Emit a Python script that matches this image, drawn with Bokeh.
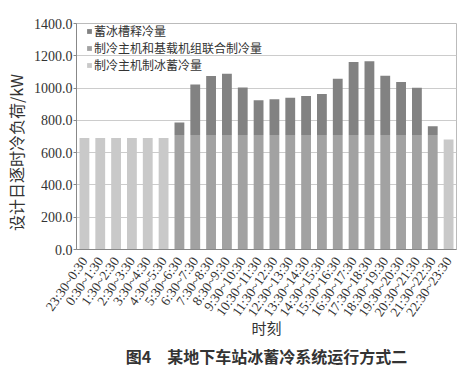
import math
from bokeh.plotting import figure
from bokeh.models import (FactorRange, Range1d, Legend, LegendItem, PrintfTickFormatter,
                          FixedTicker, Title)
from bokeh.embed import file_html
from bokeh.resources import INLINE

# ---- data ----
periods = ["23:30~0:30", "0:30~1:30", "1:30~2:30", "2:30~3:30", "3:30~4:30", "4:30~5:30",
           "5:30~6:30", "6:30~7:30", "7:30~8:30", "8:30~9:30", "9:30~10:30", "10:30~11:30",
           "11:30~12:30", "12:30~13:30", "13:30~14:30", "14:30~15:30", "15:30~16:30",
           "16:30~17:30", "17:30~18:30", "18:30~19:30", "19:30~20:30", "20:30~21:30",
           "21:30~22:30", "22:30~23:30"]
ice_making = [690, 690, 690, 690, 690, 690, 0, 0, 0, 0, 0, 0, 0, 0, 0, 0, 0, 0, 0, 0, 0, 0, 0, 682]
combined = [0, 0, 0, 0, 0, 0, 710, 710, 710, 710, 710, 710, 710, 710, 710, 710, 710,
            710, 710, 710, 710, 710, 710, 0]
ice_release = [0, 0, 0, 0, 0, 0, 77, 312, 365, 378, 294, 214, 220, 230, 241, 253, 347,
               451, 456, 366, 327, 292, 53, 0]
y_ticks = [0, 200, 400, 600, 800, 1000, 1200, 1400]

series_names = ["蓄冰槽释冷量", "制冷主机和基载机组联合制冷量", "制冷主机制冰蓄冷量"]
colors = {"ice_making": "#c9c9c9", "combined": "#a2a2a2", "ice_release": "#828282"}
y_title = "设计日逐时冷负荷/kW"
x_title = "时刻"
caption_text = "图4　某地下车站冰蓄冷系统运行方式二"

source = dict(period=periods, ice_making=ice_making, combined=combined, ice_release=ice_release)

p = figure(width=467, height=371, x_range=FactorRange(*periods), y_range=Range1d(0, 1400),
           output_backend="svg", toolbar_location=None,
           min_border_left=71, min_border_right=11, min_border_top=23, min_border_bottom=122)

renderers = p.vbar_stack(["ice_making", "combined", "ice_release"], x="period", width=0.62,
                         source=source,
                         color=[colors["ice_making"], colors["combined"], colors["ice_release"]],
                         line_color=None)

legend = Legend(items=[
    LegendItem(label=series_names[0], renderers=[renderers[2]]),
    LegendItem(label=series_names[1], renderers=[renderers[1]]),
    LegendItem(label=series_names[2], renderers=[renderers[0]]),
], location=(10, 176))
legend.glyph_width = 6
legend.glyph_height = 6
legend.label_height = 12
legend.label_standoff = 2
legend.spacing = -2
legend.padding = 0
legend.margin = 0
legend.label_text_font = "Noto Sans CJK SC"
legend.label_text_font_size = "12px"
legend.label_text_color = "#333333"
legend.background_fill_alpha = 0
legend.border_line_alpha = 0
p.add_layout(legend)

# axes
p.yaxis.ticker = FixedTicker(ticks=y_ticks)
p.yaxis.formatter = PrintfTickFormatter(format="%.1f")
p.yaxis.major_label_text_font = "Liberation Serif"
p.yaxis.major_label_text_font_size = "14px"
p.yaxis.major_label_text_color = "#333333"
p.yaxis.major_tick_in = 0
p.yaxis.major_tick_out = 3
p.yaxis.major_label_standoff = 1
p.yaxis.minor_tick_line_color = None
p.yaxis.axis_line_color = "#888888"
p.yaxis.major_tick_line_color = "#888888"
p.yaxis.axis_label = y_title + "\u3000\u3000"
p.yaxis.axis_label_text_font = "Noto Sans CJK SC"
p.yaxis.axis_label_text_font_style = "normal"
p.yaxis.axis_label_text_font_size = "16px"
p.yaxis.axis_label_text_color = "#333333"
p.yaxis.axis_label_standoff = 3

p.xaxis.major_label_orientation = 0.96
p.xaxis.major_label_text_font = "Liberation Serif"
p.xaxis.major_label_text_font_size = "13.5px"
p.xaxis.major_label_text_color = "#333333"
p.xaxis.major_label_standoff = 3
p.xaxis.major_tick_line_color = None
p.xaxis.axis_line_color = "#888888"
p.xaxis.axis_label = x_title
p.xaxis.axis_label_text_font = "Noto Sans CJK SC"
p.xaxis.axis_label_text_font_style = "normal"
p.xaxis.axis_label_text_font_size = "15px"
p.xaxis.axis_label_text_color = "#333333"
p.xaxis.axis_label_standoff = -9

p.xgrid.grid_line_color = None
p.ygrid.grid_line_color = "#cccccc"
p.outline_line_color = "#bbbbbb"

caption = Title(text=caption_text, align="center",
                text_font="Noto Sans CJK SC", text_font_size="16px",
                text_font_style="bold", text_color="#333333", standoff=0)
p.add_layout(caption, "below")

open("out.html", "w").write(file_html(p, INLINE))
